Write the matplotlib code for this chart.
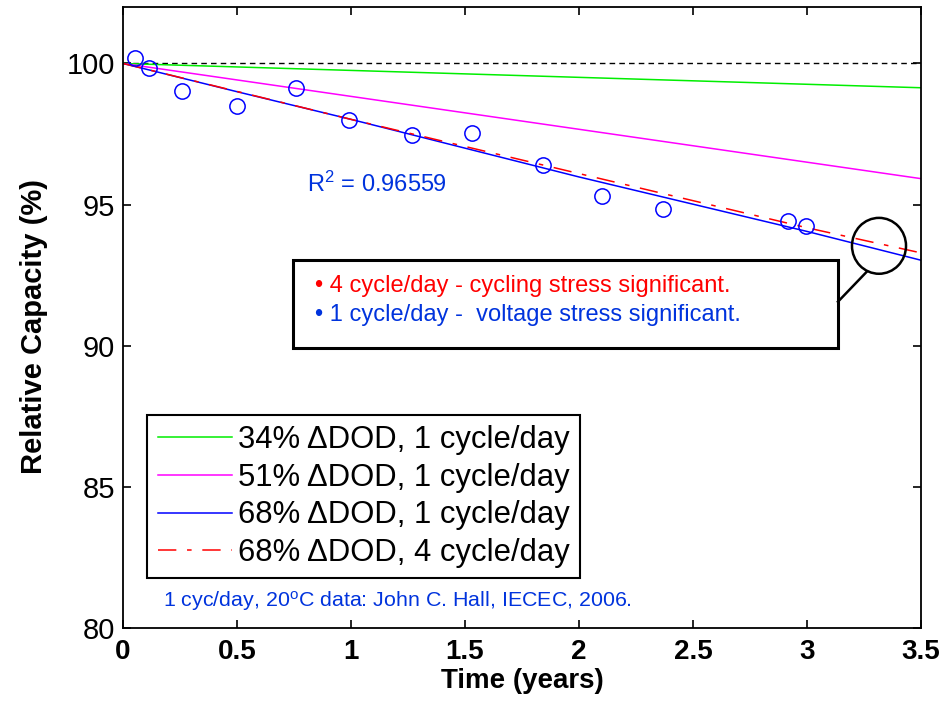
import matplotlib.pyplot as plt
from matplotlib.patches import Rectangle, Ellipse

plt.rcParams['font.family'] = ['Liberation Sans', 'DejaVu Sans']
plt.rcParams['mathtext.default'] = 'regular'

# measured capacity, 68% DOD, 1 cycle/day (Hall, IECEC 2006)
meas_t = [0.053, 0.115, 0.257, 0.499, 0.757, 0.99, 1.266, 1.532, 1.844, 2.102, 2.368, 2.918, 2.996]
meas_cap = [100.19, 99.83, 99.04, 98.49, 99.14, 97.98, 97.48, 97.53, 96.39, 95.30, 94.84, 94.41, 94.25]

# model curves
t_34 = [0, 3.5]
cap_34 = [100.0, 99.14]
t_51 = [0, 3.5]
cap_51 = [100.0, 95.92]
t_68 = [0, 0.5, 1, 2, 3, 3.5]
cap_68 = [100.0, 99.0, 98.02, 95.98, 94.05, 93.03]
t_68_4 = [0, 1, 2, 3, 3.5]
cap_68_4 = [100.0, 98.02, 96.1, 94.18, 93.29]

labels = ['34% \u0394DOD, 1 cycle/day', '51% \u0394DOD, 1 cycle/day',
          '68% \u0394DOD, 1 cycle/day', '68% \u0394DOD, 4 cycle/day']

txt_blue = '#0033dd'

fig = plt.figure(figsize=(9.41, 7.02), dpi=100)
ax = fig.add_axes([0.1307, 0.1054, 0.848, 0.8846])

ax.plot([0, 3.5], [100, 100], color='black', lw=1, dashes=(4, 3))
ax.plot(t_34, cap_34, color='#00ee00', lw=1.1, label=labels[0])
ax.plot(t_51, cap_51, color='#ff00ff', lw=1.1, label=labels[1])
ax.plot(t_68, cap_68, color='#0000ff', lw=1.1, label=labels[2])
ax.plot(t_68_4, cap_68_4, color='#ff0000', lw=1.1, dashes=(12, 7, 3, 7), label=labels[3])
ax.plot(meas_t, meas_cap, 'o', mfc='none', mec='#0000ff', mew=1.1, ms=11)

ax.set_xlim(0, 3.5)
ax.set_ylim(80, 102)
ax.set_xticks([0, 0.5, 1, 1.5, 2, 2.5, 3, 3.5])
ax.set_xticklabels(['0', '0.5', '1', '1.5', '2', '2.5', '3', '3.5'], fontweight='bold')
ax.set_yticks([80, 85, 90, 95, 100])
ax.tick_params(direction='in', length=6, width=1.2, top=True, right=True)
ax.tick_params(axis='x', labelsize=20, pad=8)
ax.tick_params(axis='y', labelsize=21, pad=5.5)
for s in ax.spines.values():
    s.set_linewidth(1.3)

ax.set_xlabel('Time (years)', fontsize=20, fontweight='bold', labelpad=2)
ax.set_ylabel('Relative Capacity (%)', fontsize=21, fontweight='bold')
ax.yaxis.set_label_coords(-0.094, 0.486)

leg = ax.legend(loc='lower left', bbox_to_anchor=(0.0305, 0.080), borderaxespad=0,
                fontsize=22.3, fancybox=False, edgecolor='black', framealpha=1,
                handlelength=2.4, handletextpad=0.2, labelspacing=0.25,
                borderpad=0.33)
leg.get_frame().set_linewidth(1.5)

ax.text(0.807, 95.72, 'R$^2$ = 0.96559', color=txt_blue, fontsize=17, va='center')
ax.text(0.175, 80.94, '1 cyc/day, 20$^o$C data: John C. Hall, IECEC, 2006.',
        color=txt_blue, fontsize=15.4, va='center')

# callout box
ax.add_patch(Rectangle((0.746, 89.92), 3.136 - 0.746, 93.03 - 89.92,
                       fill=True, fc='white', ec='black', lw=2.2, zorder=5))
ax.text(0.842, 92.11, '\u2022 4 cycle/day - cycling stress significant.',
        color='#ff0000', fontsize=17, va='center', zorder=6)
ax.text(0.842, 91.09, '\u2022 1 cycle/day -  voltage stress significant.',
        color=txt_blue, fontsize=17, va='center', zorder=6)
ax.add_patch(Ellipse((3.316, 93.54), 0.237, 1.98, fill=False, ec='black', lw=1.8, zorder=6))
ax.plot([3.262, 3.136], [92.62, 91.56], color='black', lw=1.8, zorder=6)

fig.savefig('out.png', dpi=100)
